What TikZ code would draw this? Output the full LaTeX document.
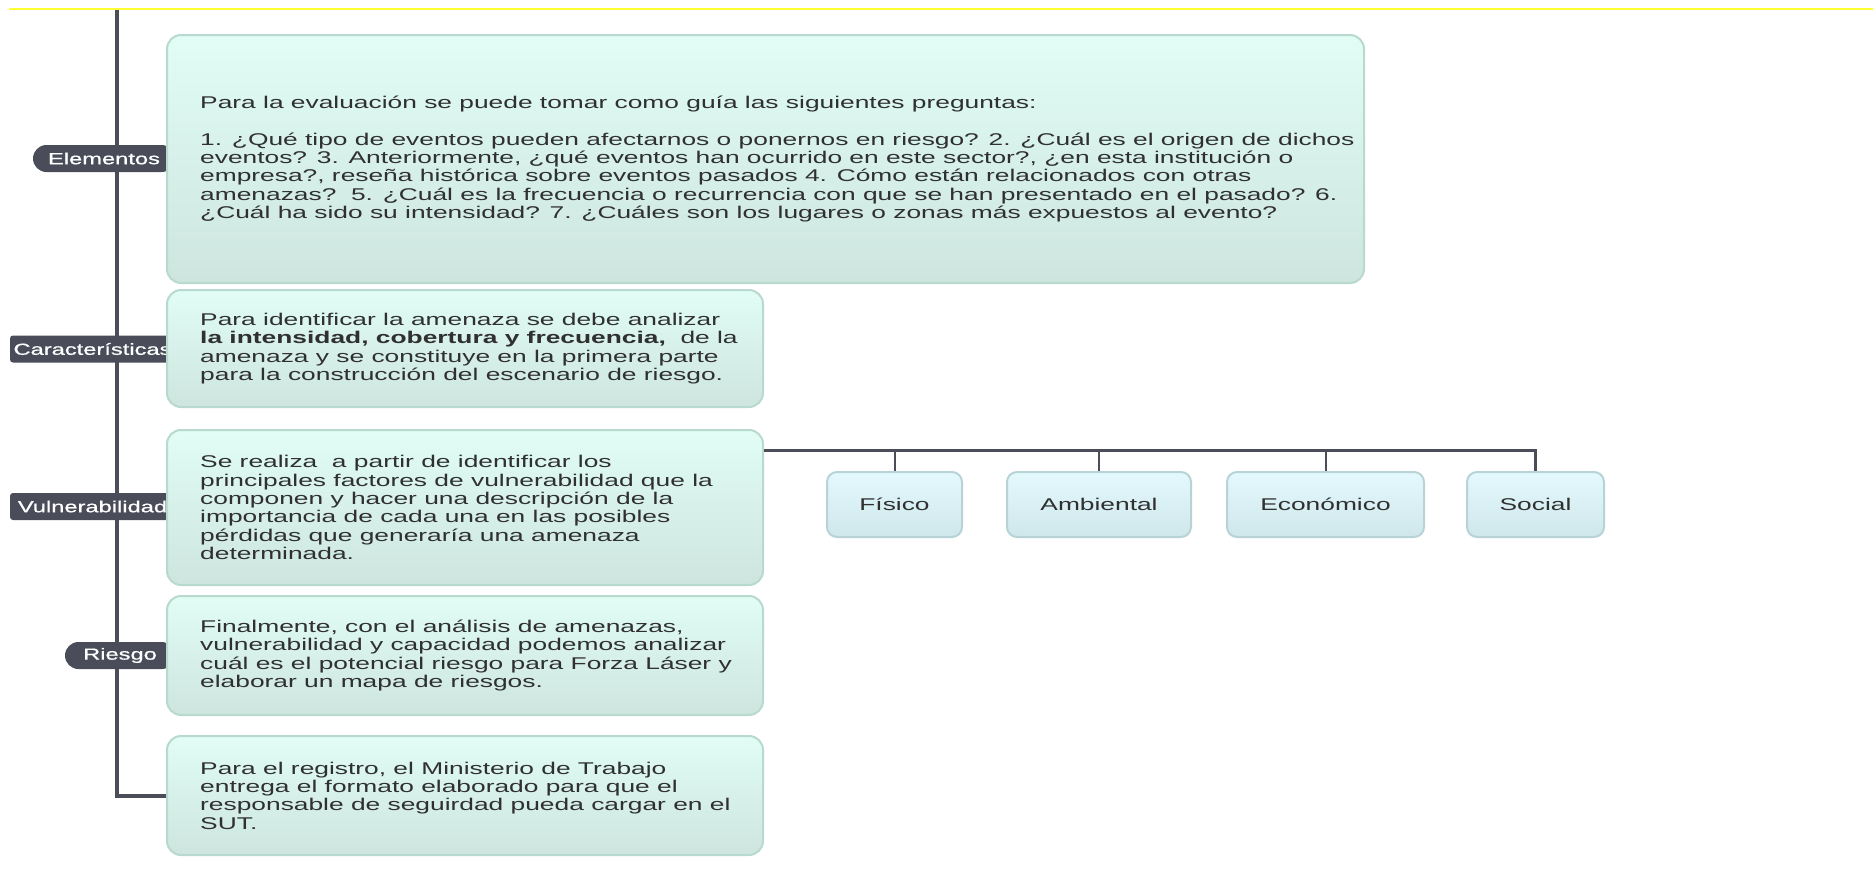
\documentclass[tikz,border=0pt]{standalone}
\usepackage{fontspec}
\setmainfont{Liberation Sans}[FakeStretch=1.55]
\newfontfamily\tagfont{Liberation Sans}[FakeStretch=1.48, FakeBold=0.8]
\usetikzlibrary{backgrounds}

\definecolor{trunkcol}{HTML}{4B4E58}
\definecolor{labelcol}{HTML}{4A4D59}
\definecolor{boxtop}{HTML}{E1FDF6}
\definecolor{boxbot}{HTML}{CDE5DE}
\definecolor{boxline}{HTML}{B7D9CE}
\definecolor{subtop}{HTML}{E3F9FD}
\definecolor{subbot}{HTML}{CFE6EA}
\definecolor{subline}{HTML}{B8D3D6}
\definecolor{txt}{HTML}{303030}
\definecolor{hilite}{HTML}{FFFF33}

\begin{document}
\begin{tikzpicture}[x=1pt,y=-1pt,
  notebox/.style={draw=boxline, line width=2pt, rounded corners=14pt,
    top color=boxtop, bottom color=boxbot, inner sep=0pt},
  notetext/.style={anchor=west, align=left, inner sep=0pt, text=txt,
    font={\fontsize{17}{18.3}\selectfont}},
  subbox/.style={draw=subline, line width=2pt, rounded corners=10pt,
    top color=subtop, bottom color=subbot, inner sep=0pt, text=txt,
    minimum height=65pt, font={\fontsize{17}{18.3}\selectfont}},
  tag/.style={fill=labelcol, text=white, inner sep=0pt, minimum height=27pt,
    font={\tagfont\fontsize{16}{18}\selectfont}},
  trunk/.style={draw=trunkcol, line width=4pt},
  busline/.style={draw=trunkcol, line width=3pt},
  drop/.style={draw=trunkcol, line width=2pt}
]
\useasboundingbox (0,0) rectangle (1873,886);

% header rule
\draw[hilite, line width=1.5pt] (9,9) -- (1873,9);

% branch labels along the trunk
\node[tag, minimum width=142pt, rounded corners=13.5pt] (lelem) at (104,158.5) {Elementos};
\node[tag, minimum width=165pt, rounded corners=3pt] (lcar) at (92.5,349) {Características};
\node[tag, minimum width=165pt, rounded corners=3pt] (lvul) at (92.5,506.5) {Vulnerabilidad};
\node[tag, minimum width=110pt, rounded corners=13.5pt] (lrie) at (120,655.5) {Riesgo};

% note boxes
\node[notebox, minimum width=1197pt, minimum height=248pt] (b1) at (765.5,159) {};
\node[notebox, minimum width=596pt, minimum height=117pt] (b2) at (465,348.5) {};
\node[notebox, minimum width=596pt, minimum height=155pt] (b3) at (465,507.5) {};
\node[notebox, minimum width=596pt, minimum height=119pt] (b4) at (465,655.5) {};
\node[notebox, minimum width=596pt, minimum height=119pt] (b5) at (465,795.5) {};

\node[notetext] (t1) at ([xshift=34pt]b1.west) {%
Para la evaluación se puede tomar como guía las siguientes preguntas:\\[18.3pt]
1. ¿Qué tipo de eventos pueden afectarnos o ponernos en riesgo? 2. ¿Cuál es el origen de dichos\\
eventos? 3. Anteriormente, ¿qué eventos han ocurrido en este sector?, ¿en esta institución o\\
empresa?, reseña histórica sobre eventos pasados 4. Cómo están relacionados con otras\\
amenazas?\ \ 5. ¿Cuál es la frecuencia o recurrencia con que se han presentado en el pasado? 6.\\
¿Cuál ha sido su intensidad? 7. ¿Cuáles son los lugares o zonas más expuestos al evento?};

\node[notetext] (t2) at ([xshift=34pt]b2.west) {%
Para identificar la amenaza se debe analizar\\
\textbf{la intensidad, cobertura y frecuencia,}\ \ de la\\
amenaza y se constituye en la primera parte\\
para la construcción del escenario de riesgo.};

\node[notetext] (t3) at ([xshift=34pt]b3.west) {%
Se realiza\ \ a partir de identificar los\\
principales factores de vulnerabilidad que la\\
componen y hacer una descripción de la\\
importancia de cada una en las posibles\\
pérdidas que generaría una amenaza\\
determinada.};

\node[notetext] (t4) at ([xshift=34pt]b4.west) {%
Finalmente, con el análisis de amenazas,\\
vulnerabilidad y capacidad podemos analizar\\
cuál es el potencial riesgo para Forza Láser y\\
elaborar un mapa de riesgos.};

\node[notetext] (t5) at ([xshift=34pt]b5.west) {%
Para el registro, el Ministerio de Trabajo\\
entrega el formato elaborado para que el\\
responsable de seguirdad pueda cargar en el\\
SUT.};

% vulnerability factors
\node[subbox, minimum width=135pt] (fis) at (894.5,504.5) {Físico};
\node[subbox, minimum width=184pt] (amb) at (1099,504.5) {Ambiental};
\node[subbox, minimum width=197pt] (eco) at (1325.5,504.5) {Económico};
\node[subbox, minimum width=137pt] (soc) at (1535.5,504.5) {Social};

\coordinate (bus) at (1535.5,450);
\draw[busline] (b3.east |- bus) -- (bus) -- (soc.north);
\draw[drop] (fis.north |- bus) -- (fis.north);
\draw[drop] (amb.north |- bus) -- (amb.north);
\draw[drop] (eco.north |- bus) -- (eco.north);

% main trunk behind the labels
\coordinate (root) at (117,9);
\begin{pgfonlayer}{background}
\draw[trunk] (root) |- (b5.west);
\end{pgfonlayer}
\end{tikzpicture}
\end{document}
